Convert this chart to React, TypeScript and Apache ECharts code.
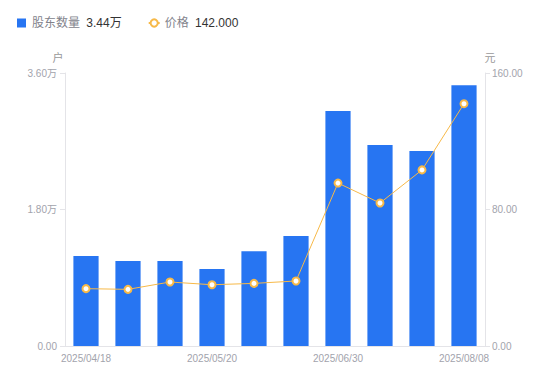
import React, { useEffect, useRef } from "react";
import * as echarts from "echarts";

const categories = [
  "2025/04/18", "2025/04/30", "2025/05/09", "2025/05/20", "2025/05/30",
  "2025/06/10", "2025/06/30", "2025/07/10", "2025/07/18", "2025/08/08",
];
const holders = [11870, 11200, 11200, 10150, 12500, 14500, 31000, 26500, 25700, 34400];
const prices = [33.6, 33.2, 37.5, 35.9, 36.7, 38.1, 95.5, 83.8, 103.2, 142.0];
const leftTicks = { min: 0, max: 36000, interval: 18000 };
const rightTicks = { min: 0, max: 160, interval: 80 };

const fmtWan = (v: number) => (v === 0 ? "0.00" : (v / 10000).toFixed(2) + "万");

export default function App() {
  const ref = useRef<HTMLDivElement>(null);
  useEffect(() => {
    if (!ref.current) return;
    const chart = echarts.init(ref.current, undefined, { renderer: "svg" });
    const font = "'Liberation Sans', Arial, 'Noto Sans CJK SC', sans-serif";
    const lastH = holders[holders.length - 1];
    const lastP = prices[prices.length - 1];
    const labelColor = "#a2a3ac";
    const axisColor = "#e4e4e8";
    chart.setOption({
      animation: false,
      textStyle: { fontFamily: font },
      legend: {
        left: 4,
        top: 4,
        itemWidth: 11,
        itemHeight: 9,
        itemGap: 26,
        symbolKeepAspect: true,
        textStyle: {
          fontFamily: font,
          rich: {
            n: { color: "#82838c", fontSize: 12, fontFamily: font },
            v: { color: "#333", fontSize: 12, fontFamily: font, padding: [0, 0, 0, 3] },
          },
        },
        formatter: (name: string) =>
          name === "股东数量"
            ? `{n|${name}} {v|${fmtWan(lastH)}}`
            : `{n|${name}} {v|${lastP.toFixed(3)}}`,
        data: [
          { name: "股东数量", icon: "path://M0,0H9V9H0Z" },
          { name: "价格" },
        ],
      },
      grid: { left: 57, right: 57, top: 65, bottom: 27 },
      xAxis: {
        type: "category",
        data: categories,
        axisLine: { lineStyle: { color: axisColor } },
        axisTick: { show: false },
        axisLabel: { color: labelColor, fontSize: 10, interval: 2, margin: 7, fontFamily: font },
      },
      yAxis: [
        {
          type: "value",
          name: "户",
          nameTextStyle: { color: "#999", fontSize: 11, padding: [0, 14, 0, 0], fontFamily: font },
          nameGap: 10,
          ...leftTicks,
          axisLine: { show: true, lineStyle: { color: axisColor } },
          axisTick: { show: true, length: 5, lineStyle: { color: axisColor } },
          axisLabel: { color: labelColor, fontSize: 10, formatter: fmtWan, margin: 8, fontFamily: font },
          splitLine: { show: false },
        },
        {
          type: "value",
          name: "元",
          nameTextStyle: { color: "#999", fontSize: 11, padding: [0, 0, 0, 10], fontFamily: font },
          nameGap: 10,
          ...rightTicks,
          axisLine: { show: true, lineStyle: { color: axisColor } },
          axisTick: { show: true, length: 5, lineStyle: { color: axisColor } },
          axisLabel: { color: labelColor, fontSize: 10, formatter: (v: number) => v.toFixed(2), margin: 7, fontFamily: font },
          splitLine: { show: false },
        },
      ],
      series: [
        {
          name: "股东数量",
          type: "bar",
          yAxisIndex: 0,
          data: holders,
          barWidth: "60%",
          itemStyle: { color: "#2775f2" },
        },
        {
          name: "价格",
          type: "line",
          yAxisIndex: 1,
          data: prices,
          symbol: "circle",
          symbolSize: 7,
          lineStyle: { color: "#f7b948", width: 1 },
          itemStyle: { color: "#fff", borderColor: "#f7b948", borderWidth: 2 },
        },
      ],
    });
    return () => chart.dispose();
  }, []);
  return <div ref={ref} style={{ width: 534, height: 365 }} />;
}
